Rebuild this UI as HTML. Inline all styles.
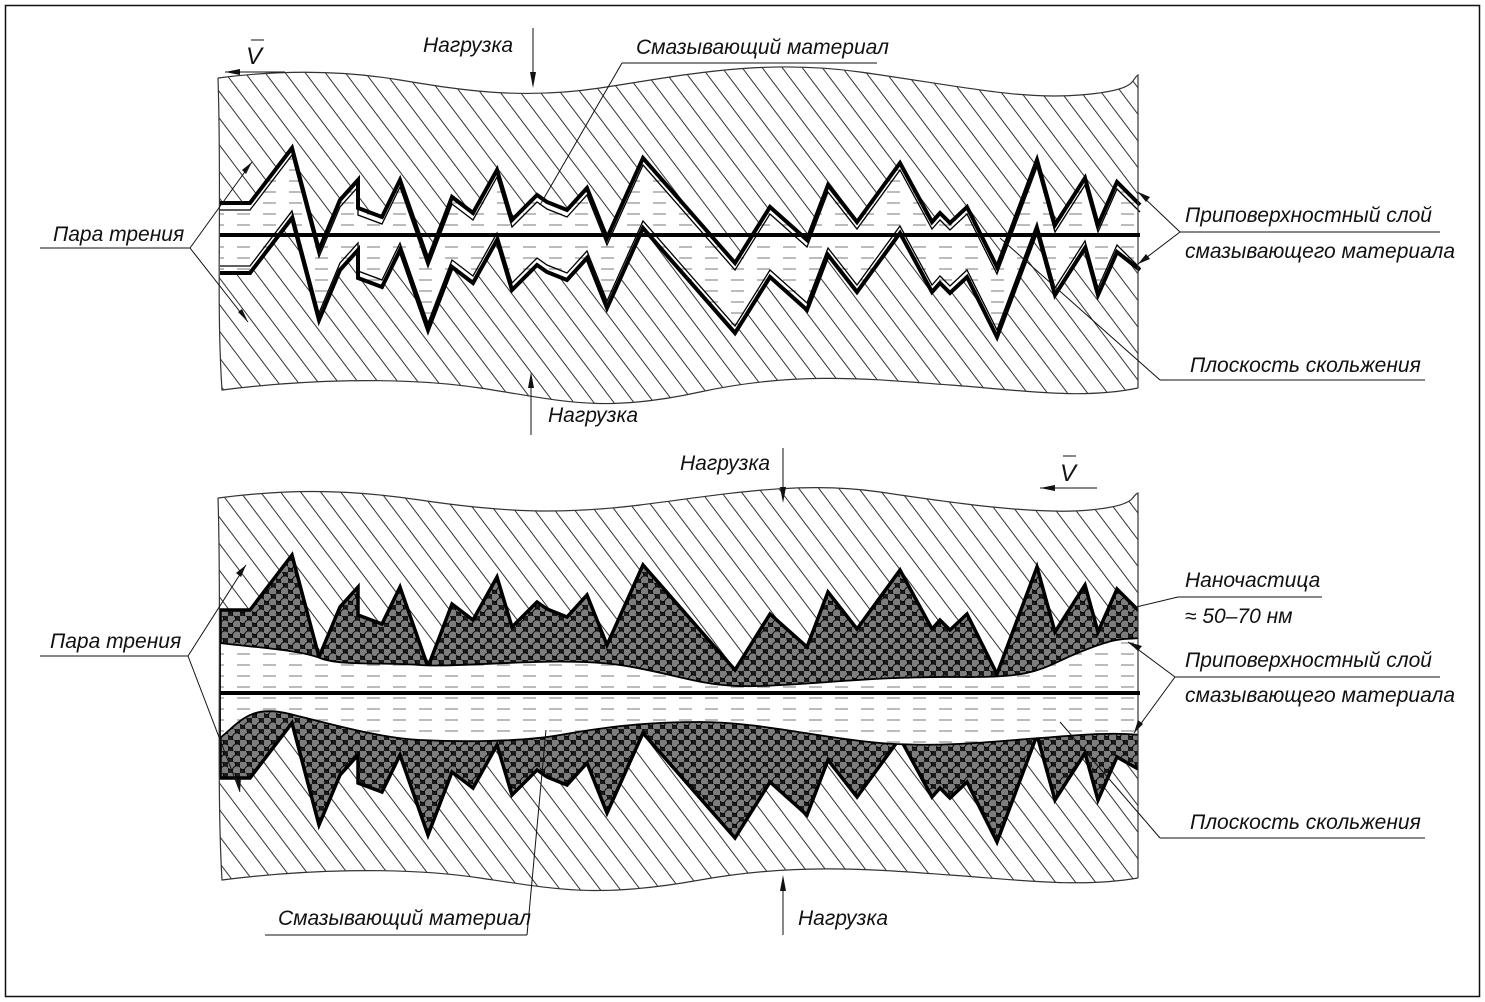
<!DOCTYPE html>
<html><head><meta charset="utf-8"><style>
html,body{margin:0;padding:0;background:#fff}
svg{display:block}
text{font-family:"Liberation Sans Narrow","Liberation Sans","DejaVu Sans",sans-serif;font-style:italic;font-size:21px;fill:#111}
</style></head><body>
<svg width="1485" height="1002" viewBox="0 0 1485 1002" xmlns="http://www.w3.org/2000/svg">
<defs>
<pattern id="hatch" patternUnits="userSpaceOnUse" width="16" height="16" patternTransform="rotate(-37)">
<rect width="16" height="16" fill="#fff"/>
<line x1="8" y1="-1" x2="8" y2="17" stroke="#333" stroke-width="1"/>
</pattern>
<pattern id="dash" patternUnits="userSpaceOnUse" width="26" height="11">
<rect width="26" height="11" fill="#fff"/>
<line x1="3" y1="5" x2="16" y2="5" stroke="#999" stroke-width="1.3"/>
</pattern>
<pattern id="part" patternUnits="userSpaceOnUse" width="12" height="11">
<rect width="12" height="11" fill="#1a1a1a"/>
<circle cx="3" cy="3" r="4.6" fill="#7d7d7d" stroke="#000" stroke-width="0.9"/>
<circle cx="9" cy="8.5" r="4.6" fill="#7d7d7d" stroke="#000" stroke-width="0.9"/>
</pattern>
<clipPath id="p1"><path d="M218,78 C280,70 340,70 400,80 S520,100 600,88 S760,58 860,72 S1020,100 1080,95 S1130,80 1138,75 L1138,388 C1080,400 1020,390 950,385 S800,370 700,392 S560,400 480,388 S300,380 222,390 C216,300 222,200 218,78 Z"/></clipPath>
<clipPath id="p2"><path d="M218,498 C280,490 340,488 420,500 S560,515 640,505 S800,480 880,492 S1040,515 1090,510 S1130,496 1138,493 L1138,878 C1080,888 1020,880 950,875 S800,862 700,880 S560,890 480,878 S300,870 222,880 C216,780 222,620 218,498 Z"/></clipPath>
</defs>

<rect x="5.5" y="5.5" width="1474" height="991" fill="none" stroke="#111" stroke-width="1.5"/>

<!-- TOP PANEL -->
<g clip-path="url(#p1)">
<rect x="200" y="50" width="960" height="370" fill="url(#hatch)"/>
<polygon fill="url(#dash)" points="220,203 250,203 292,148 319,250 340,200 358,180 358,208 382,217 400,180 428,260 452,197 473,213 497,170 512,220 537,195 547,202 567,210 587,188 607,238 643,158 735,263 770,207 807,240 828,185 857,222 900,163 932,222 940,213 950,223 967,207 997,267 1037,160 1055,225 1085,178 1098,225 1117,182 1140,205 1140,400 220,400"/>
<polygon fill="url(#hatch)" points="220,273 250,273 292,218 319,320 340,270 358,250 358,278 382,287 400,250 428,330 452,267 473,283 497,240 512,290 537,265 547,272 567,280 587,258 607,308 643,228 735,333 770,277 807,310 828,255 857,292 900,233 932,292 940,283 950,293 967,277 997,337 1037,230 1055,295 1085,248 1098,295 1117,252 1140,270 1140,470 220,470"/>
</g>
<g fill="none" stroke="#000" stroke-linejoin="miter">
<polyline stroke-width="4" points="220,203 250,203 292,148 319,250 340,200 358,180 358,208 382,217 400,180 428,260 452,197 473,213 497,170 512,220 537,195 547,202 567,210 587,188 607,238 643,158 735,263 770,207 807,240 828,185 857,222 900,163 932,222 940,213 950,223 967,207 997,267 1037,160 1055,225 1085,178 1098,225 1117,182 1140,205"/>
<polyline stroke-width="1.3" transform="translate(0,7)" points="220,203 250,203 292,148 319,250 340,200 358,180 358,208 382,217 400,180 428,260 452,197 473,213 497,170 512,220 537,195 547,202 567,210 587,188 607,238 643,158 735,263 770,207 807,240 828,185 857,222 900,163 932,222 940,213 950,223 967,207 997,267 1037,160 1055,225 1085,178 1098,225 1117,182 1140,205"/>
<polyline stroke-width="4" transform="translate(0,70)" points="220,203 250,203 292,148 319,250 340,200 358,180 358,208 382,217 400,180 428,260 452,197 473,213 497,170 512,220 537,195 547,202 567,210 587,188 607,238 643,158 735,263 770,207 807,240 828,185 857,222 900,163 932,222 940,213 950,223 967,207 997,267 1037,160 1055,225 1085,178 1098,225 1117,182 1140,200"/>
<polyline stroke-width="1.3" transform="translate(0,63)" points="220,203 250,203 292,148 319,250 340,200 358,180 358,208 382,217 400,180 428,260 452,197 473,213 497,170 512,220 537,195 547,202 567,210 587,188 607,238 643,158 735,263 770,207 807,240 828,185 857,222 900,163 932,222 940,213 950,223 967,207 997,267 1037,160 1055,225 1085,178 1098,225 1117,182 1140,205"/>
</g>
<path d="M218,78 C280,70 340,70 400,80 S520,100 600,88 S760,58 860,72 S1020,100 1080,95 S1130,80 1138,75 L1138,388 M1138,388 C1080,400 1020,390 950,385 S800,370 700,392 S560,400 480,388 S300,380 222,390 C216,300 222,200 218,78" fill="none" stroke="#333" stroke-width="1.2"/>
<line x1="220" y1="235" x2="1140" y2="235" stroke="#000" stroke-width="4"/>

<!-- BOTTOM PANEL -->
<g clip-path="url(#p2)">
<rect x="200" y="470" width="960" height="430" fill="url(#hatch)"/>
<polygon fill="url(#part)" stroke="#000" stroke-width="3.5" transform="translate(0,407)" points="220,203 250,203 292,148 319,250 340,200 358,180 358,208 382,217 400,180 428,260 452,197 473,213 497,170 512,220 537,195 547,202 567,210 587,188 607,238 643,158 735,263 770,207 807,240 828,185 857,222 900,163 932,222 940,213 950,223 967,207 997,267 1037,160 1055,225 1085,178 1098,225 1117,182 1140,205 1140,290 220,290"/>
<polygon fill="url(#part)" stroke="#000" stroke-width="3.5" transform="translate(0,575)" points="220,203 250,203 292,148 319,250 340,200 358,180 358,208 382,217 400,180 428,260 452,197 473,213 497,170 512,220 537,195 547,202 567,210 587,188 607,238 643,158 735,263 770,207 807,240 828,185 857,222 900,163 932,222 940,213 950,223 967,207 997,267 1037,160 1055,225 1085,178 1098,225 1117,182 1140,195 1140,120 220,120"/>
<path d="M220,643 C260,648 300,650 320,658 S380,662 420,665 S560,656 620,665 S700,688 760,686 S880,676 960,677 S1040,668 1080,652 S1120,640 1140,638 L1140,735 C1110,732 1080,735 1040,738 S940,748 880,743 S760,722 700,722 S600,728 560,735 S460,742 420,740 S330,724 290,714 S240,722 220,738 Z" fill="url(#dash)" stroke="#000" stroke-width="1.8"/>
</g>
<path d="M218,498 C280,490 340,488 420,500 S560,515 640,505 S800,480 880,492 S1040,515 1090,510 S1130,496 1138,493 L1138,878 M1138,878 C1080,888 1020,880 950,875 S800,862 700,880 S560,890 480,878 S300,870 222,880 C216,780 222,620 218,498" fill="none" stroke="#333" stroke-width="1.2"/>
<line x1="220" y1="693" x2="1140" y2="693" stroke="#000" stroke-width="4"/>

<!-- annotations -->
<g stroke="#111" stroke-width="1" fill="none">
<line x1="225" y1="72" x2="285" y2="72"/><line x1="251" y1="40" x2="264" y2="40"/>
<line x1="533" y1="28" x2="533" y2="85"/>
<line x1="622" y1="63" x2="877" y2="63"/><line x1="622" y1="63" x2="540" y2="205"/>
<line x1="40" y1="248" x2="190" y2="248"/><line x1="190" y1="248" x2="252" y2="162"/><line x1="190" y1="248" x2="248" y2="322"/>
<line x1="1180" y1="232" x2="1440" y2="232"/><line x1="1180" y1="232" x2="1138" y2="192"/><line x1="1180" y1="232" x2="1138" y2="264"/>
<line x1="1160" y1="380" x2="1425" y2="380"/><line x1="1160" y1="380" x2="1000" y2="238"/>
<line x1="531" y1="435" x2="531" y2="375"/>
<line x1="783" y1="448" x2="783" y2="500"/>
<line x1="1040" y1="488" x2="1097" y2="488"/><line x1="1063" y1="456" x2="1076" y2="456"/>
<line x1="40" y1="656" x2="188" y2="656"/><line x1="188" y1="656" x2="246" y2="565"/><line x1="188" y1="656" x2="240" y2="792"/>
<line x1="1178" y1="597" x2="1322" y2="597"/><line x1="1178" y1="597" x2="1132" y2="608"/>
<line x1="1175" y1="677" x2="1440" y2="677"/><line x1="1175" y1="677" x2="1128" y2="642"/><line x1="1175" y1="677" x2="1134" y2="733"/>
<line x1="1160" y1="838" x2="1425" y2="838"/><line x1="1160" y1="838" x2="1060" y2="722"/>
<line x1="265" y1="935" x2="527" y2="935"/><line x1="527" y1="935" x2="546" y2="730"/>
<line x1="783" y1="935" x2="783" y2="878"/>
</g>
<g fill="#111">
<polygon points="225,72 240,69 240,75"/>
<polygon points="533,88 530,72 536,72"/>
<polygon points="252,162 242,170 246,174"/>
<polygon points="248,322 238,312 242,309"/>
<polygon points="1138,192 1150,197 1146,202"/>
<polygon points="1138,264 1146,254 1150,259"/>
<polygon points="531,372 528,388 534,388"/>
<polygon points="783,503 780,487 786,487"/>
<polygon points="1040,488 1055,485 1055,491"/>
<polygon points="246,565 236,573 241,577"/>
<polygon points="240,792 236,780 241,778"/>
<polygon points="1128,642 1142,646 1138,651"/>
<polygon points="1134,733 1138,720 1143,724"/>
<polygon points="783,875 780,891 786,891"/>
</g>
<text x="246" y="64" style="font-size:24px">V</text>
<text x="423" y="52">Нагрузка</text>
<text x="636" y="54">Смазывающий материал</text>
<text x="53" y="241">Пара трения</text>
<text x="1185" y="222">Приповерхностный слой</text>
<text x="1185" y="258">смазывающего материала</text>
<text x="1190" y="372">Плоскость скольжения</text>
<text x="548" y="422">Нагрузка</text>
<text x="680" y="470">Нагрузка</text>
<text x="1060" y="481" style="font-size:24px">V</text>
<text x="50" y="648">Пара трения</text>
<text x="1185" y="587">Наночастица</text>
<text x="1185" y="623">≈ 50–70 нм</text>
<text x="1185" y="667">Приповерхностный слой</text>
<text x="1185" y="702">смазывающего материала</text>
<text x="1190" y="829">Плоскость скольжения</text>
<text x="278" y="925">Смазывающий материал</text>
<text x="798" y="925">Нагрузка</text>
</svg>
</body></html>
